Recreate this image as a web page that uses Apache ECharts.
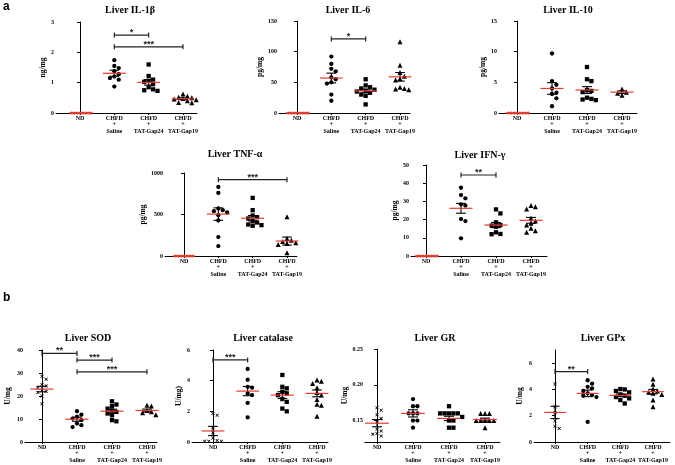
<!DOCTYPE html>
<html><head><meta charset="utf-8">
<script src="https://cdn.jsdelivr.net/npm/echarts@6/dist/echarts.min.js"></script>
<style>html,body{margin:0;padding:0;background:#fff}#c{width:675px;height:465px}</style>
</head><body><div id="c"></div>
<script>
// ---------- DATA ----------
const groupLabels = ['ND', 'CHFD\n+\nSaline', 'CHFD\n+\nTAT-Gap24', 'CHFD\n+\nTAT-Gap19'];

const il1bValues = [[0,0,0,0,0,0,0,0],[1.74,1.55,1.48,1.38,1.28,1.2,1.15,1.1,0.87],[1.6,1.22,1.1,1.06,1.03,0.95,0.85,0.78,0.75,0.73],[0.63,0.55,0.52,0.5,0.48,0.46,0.44,0.4,0.35,0.34]];
const il1bMean = [0,1.31,1.01,0.47];
const il1bSem = [0,0.1,0.09,0.03];
const il1bTicks = [0,1,2,3];
const il1bSig = [[1,2,2.57,'*'],[1,3,2.18,'***']];

const il6Values = [[0,0,0,0,0,0,0,0],[92,80,72,68,58,55,50,48,30,20],[55,45,42,40,38,36,35,33,30,28,14],[116,78,66,60,56,54,42,40,39,38]];
const il6Mean = [0,57,36,59];
const il6Sem = [0,8,3,7];
const il6Ticks = [0,50,100,150];
const il6Sig = [[1,2,120.7,'*']];

const il10Values = [[0,0,0,0,0,0,0,0],[9.7,5.2,4.6,4.0,3.3,3.1,2.4,1.1],[7.5,5.5,5.2,3.75,3.6,3.4,2.5,2.3,2.2,2.1],[3.9,3.4,3.2,2.9]];
const il10Mean = [0,4.0,3.75,3.4];
const il10Sem = [0,0.95,0.55,0.2];
const il10Ticks = [0,5,10,15];
const il10Sig = [];

const tnfValues = [[0,0,0,0,0,0,0],[832,760,572,552,540,524,492,428,228,120],[700,552,488,468,452,420,404,380,372,364],[472,210,190,175,160,150,140,140,40]];
const tnfMean = [0,505,455,180];
const tnfSem = [0,75,32,48];
const tnfTicks = [0,500,1000];
const tnfSig = [[1,3,920,'***']];

const ifnValues = [[0,0,0,0,0,0,0,0],[37.5,33.5,31.7,28.4,27.7,20.3,19.2,9.7],[25.6,23.4,18.5,17,16.7,16.1,13,12.1,12],[27.7,27.1,25.8,20.7,19.2,18,17,15.2,13.9,13]];
const ifnMean = [0,26.2,17,19.6];
const ifnSem = [0,2.7,1.4,1.6];
const ifnTicks = [0,10,20,30,40,50];
const ifnSig = [[1,2,44.5,'**']];

const sodValues = [[28.6,27.3,25,24.4,23.6,22.5,22.1,21.5,20,16.6],[13.4,11.9,11,10.2,9.5,8,7.3,6.5],[17.7,16.3,15.6,14.5,13.7,13.1,12.4,11.6,9.5,9.0],[16,15.6,13.7,13.1,12.7,11.9]];
const sodMean = [23,9.9,13.4,13.7];
const sodSem = [1.2,0.9,0.85,0.6];
const sodTicks = [0,10,20,30,40];
const sodSig = [[0,1,38.5,'**'],[1,2,35.6,'***'],[1,3,30.5,'***']];

const catValues = [[1.86,1.75,0.92,0.61,0.26,0.1,0.05,0.05,0.05],[4.76,4.06,3.6,3.54,3.17,3.06,2.55,1.6],[4.37,3.6,3.5,3.28,3.17,3.06,2.8,2.62,2.18,2.0],[4.04,3.97,3.82,3.54,3.23,3.06,2.77,2.47,2.4,1.68]];
const catMean = [0.72,3.32,3.06,3.17];
const catSem = [0.3,0.3,0.22,0.22];
const catTicks = [0,2,4,6];
const catSig = [[0,1,5.35,'***']];

const grValues = [[0.168,0.1645,0.158,0.153,0.1477,0.138,0.1355,0.132,0.131,0.1285],[0.18,0.17,0.17,0.16,0.16,0.16,0.15,0.15,0.14],[0.17,0.16,0.16,0.16,0.16,0.16,0.155,0.15,0.15,0.14,0.14],[0.16,0.16,0.16,0.15,0.15,0.15,0.15,0.15,0.14]];
const grMean = [0.1463,0.16,0.153,0.1514];
const grSem = [0.005,0.005,0.003,0.002];
const grTicks = [0.15,0.20,0.25];
const grSig = [];

const gpxValues = [[4.41,2.68,2.24,1.6,1.2,1.02],[4.7,4.44,4.2,4.08,3.88,3.7,3.57,3.52,3.42,1.53],[4.03,4.0,3.88,3.78,3.62,3.52,3.42,3.32,3.19,2.93],[4.8,4.39,4.03,3.88,3.78,3.7,3.62,3.19,2.68]];
const gpxMean = [2.25,3.7,3.55,3.83];
const gpxSem = [0.47,0.25,0.1,0.17];
const gpxTicks = [0,2,4,6];
const gpxSig = [[0,1,5.36,'**']];

// ---------- LAYOUT ----------
const panels = [
  {title:'Liver IL-1β', yName:'ng/mg', values:il1bValues, mean:il1bMean, sem:il1bSem, ticks:il1bTicks, sig:il1bSig, min:0, max:3, nd:'dot', dec:0,
   box:{axisX:56,cat0:80,cat3:183,right:197,top:22,bottom:113,tx:130,ty:10,nameDist:12}},
  {title:'Liver IL-6', yName:'pg/mg', values:il6Values, mean:il6Mean, sem:il6Sem, ticks:il6Ticks, sig:il6Sig, min:0, max:150, nd:'dot', dec:0,
   box:{axisX:279,cat0:297,cat3:400,right:410,top:21,bottom:113,tx:348,ty:10,nameDist:15}},
  {title:'Liver IL-10', yName:'pg/mg', values:il10Values, mean:il10Mean, sem:il10Sem, ticks:il10Ticks, sig:il10Sig, min:0, max:15, nd:'dot', dec:0,
   box:{axisX:499,cat0:517,cat3:622,right:637,top:21,bottom:113,tx:568,ty:10,nameDist:16}},
  {title:'Liver TNF-α', yName:'pg/mg', values:tnfValues, mean:tnfMean, sem:tnfSem, ticks:tnfTicks, sig:tnfSig, min:0, max:1000, nd:'dot', dec:0,
   box:{axisX:165,cat0:184,cat3:287,right:297,top:173,bottom:256,tx:235,ty:154,nameDist:15}},
  {title:'Liver IFN-γ', yName:'pg/mg', values:ifnValues, mean:ifnMean, sem:ifnSem, ticks:ifnTicks, sig:ifnSig, min:0, max:50, nd:'dot', dec:0,
   box:{axisX:411,cat0:426,cat3:531,right:547,top:165,bottom:256,tx:480,ty:155,nameDist:14}},
  {title:'Liver SOD', yName:'U/mg', values:sodValues, mean:sodMean, sem:sodSem, ticks:sodTicks, sig:sodSig, min:0, max:40, nd:'x', dec:0,
   box:{axisX:25,cat0:42,cat3:147,right:157,top:350,bottom:442,tx:88,ty:338,nameDist:17}},
  {title:'Liver catalase', yName:'U/mg)', values:catValues, mean:catMean, sem:catSem, ticks:catTicks, sig:catSig, min:0, max:6, nd:'x', dec:0,
   box:{axisX:192,cat0:213,cat3:317,right:328,top:350,bottom:442,tx:263,ty:338,nameDist:12}},
  {title:'Liver GR', yName:'U/mg', values:grValues, mean:grMean, sem:grSem, ticks:grTicks, sig:grSig, min:0.12, max:0.25, nd:'x', dec:2,
   box:{axisX:365,cat0:377,cat3:485,right:500,top:349,bottom:442,tx:435,ty:338,nameDist:15}},
  {title:'Liver GPx', yName:'U/mg', values:gpxValues, mean:gpxMean, sem:gpxSem, ticks:gpxTicks, sig:gpxSig, min:0, max:7, nd:'x', dec:0,
   box:{axisX:534,cat0:555,cat3:653,right:670,top:350,bottom:442,tx:603,ty:338,nameDist:14}}
];

const SERIF = '"Liberation Serif", "Times New Roman", serif';
const RED = '#e03c31';
const X_PATH = 'path://M0,1.5L1.5,0L5,3.5L8.5,0L10,1.5L6.5,5L10,8.5L8.5,10L5,6.5L1.5,10L0,8.5L3.5,5Z';

// simple deterministic beeswarm: returns x offsets (category units)
function swarm(vals, ppu, min, s, r) {
  const placed = [];
  const offs = new Array(vals.length).fill(0);
  const order = vals.map((v, i) => i).sort((a, b) => vals[b] - vals[a]);
  order.forEach(i => {
    const py = (vals[i] - min) * ppu;
    for (let k = 0; k < 60; k++) {
      const m = k === 0 ? 0 : (k % 2 ? Math.ceil(k / 2) : -k / 2);
      const px = m * r;
      if (placed.every(p => Math.hypot(p[0] - px, p[1] - py) >= r * 0.98)) {
        placed.push([px, py]); offs[i] = px / s; break;
      }
    }
  });
  return offs;
}

const grids = [], xAxes = [], yAxes = [], series = [], graphics = [];

panels.forEach((p, pi) => {
  const b = p.box;
  const s = (b.cat3 - b.cat0) / 3;
  const xmin = -(b.cat0 - b.axisX) / s;
  const xmax = 3 + (b.right - b.cat3) / s;
  const h = b.bottom - b.top;
  const ppu = h / (p.max - p.min);
  grids.push({left: b.axisX, top: b.top, width: b.right - b.axisX, height: h, outerBoundsMode: 'none', containLabel: false});
  xAxes.push({
    gridIndex: pi, type: 'value', min: xmin, max: xmax,
    axisLine: {show: true, onZero: false, lineStyle: {color: '#000', width: 1}},
    splitLine: {show: false},
    axisTick: {show: true, length: 2, customValues: [0,1,2,3], lineStyle: {color: '#000'}},
    axisLabel: {customValues: [0,1,2,3], formatter: v => groupLabels[Math.round(v)],
      fontFamily: SERIF, fontWeight: 'bold', fontSize: 6, lineHeight: 6.5, color: '#000', margin: 2,
      verticalAlign: 'top', align: 'center'}
  });
  yAxes.push({
    gridIndex: pi, type: 'value', min: p.min, max: p.max,
    name: p.yName, nameLocation: 'middle', nameGap: b.nameDist - 4,
    nameTextStyle: {fontFamily: SERIF, fontWeight: 'bold', fontSize: 7.5, color: '#000'},
    axisLine: {show: true, lineStyle: {color: '#000', width: 1}},
    splitLine: {show: false},
    axisTick: {show: true, length: 3, customValues: p.ticks, lineStyle: {color: '#000'}},
    axisLabel: {customValues: p.ticks, formatter: v => p.dec ? Number(v).toFixed(p.dec) : String(Math.round(v)),
      fontFamily: SERIF, fontWeight: 'bold', fontSize: 6, color: '#000', margin: 2}
  });
  graphics.push({type: 'text', x: b.tx, y: b.ty, style: {text: p.title, textAlign: 'center', textVerticalAlign: 'middle',
    font: 'bold 10px ' + SERIF, fill: '#000'}});

  p.values.forEach((vals, g) => {
    const isNDdot = g === 0 && p.nd === 'dot';
    const isX = g === 0 && p.nd === 'x';
    const size = isNDdot ? 3 : (isX ? 3.5 : (g === 3 ? 5 : 4.3));
    const r = isNDdot ? 2.8 : (isX ? 4.2 : 4.4);
    const offs = swarm(vals, ppu, p.min, s, r);
    const symbol = g === 0 ? (p.nd === 'dot' ? 'circle' : X_PATH) : (g === 1 ? 'circle' : (g === 2 ? 'rect' : 'triangle'));
    series.push({
      type: 'scatter', xAxisIndex: pi, yAxisIndex: pi, symbol, symbolSize: size,
      itemStyle: {color: isNDdot ? RED : '#000', opacity: 1},
      data: vals.map((v, i) => [g + offs[i], v]),
      silent: true, z: 2
    });
  });

  series.push({
    type: 'custom', xAxisIndex: pi, yAxisIndex: pi, clip: false, silent: true, z: 3,
    data: p.mean.map((m, i) => [i, m, p.sem[i]]),
    encode: {x: 0, y: 1},
    renderItem: (params, api) => {
      const g = api.value(0), m = api.value(1), se = api.value(2);
      const c = api.coord([g, m]);
      const unit = api.size([1, 0])[0];
      const ch = [];
      if (se > 0) {
        const t = api.coord([g, m + se]), bo = api.coord([g, m - se]);
        const cw = 0.14 * unit;
        ch.push({type: 'line', shape: {x1: c[0], y1: t[1], x2: c[0], y2: bo[1]}, style: {stroke: '#000', lineWidth: 1.1}});
        ch.push({type: 'line', shape: {x1: c[0] - cw, y1: t[1], x2: c[0] + cw, y2: t[1]}, style: {stroke: '#000', lineWidth: 1.1}});
        ch.push({type: 'line', shape: {x1: c[0] - cw, y1: bo[1], x2: c[0] + cw, y2: bo[1]}, style: {stroke: '#000', lineWidth: 1.1}});
      }
      const mw = 0.33 * unit;
      ch.push({type: 'line', shape: {x1: c[0] - mw, y1: c[1], x2: c[0] + mw, y2: c[1]}, style: {stroke: RED, lineWidth: 1.2}});
      return {type: 'group', children: ch};
    }
  });

  if (p.sig.length) {
    series.push({
      type: 'custom', xAxisIndex: pi, yAxisIndex: pi, clip: false, silent: true, z: 4,
      data: p.sig.map(d => [d[0], d[1], d[2]]),
      encode: {x: [0, 1], y: 2},
      renderItem: (params, api) => {
        const a = api.coord([api.value(0), api.value(2)]);
        const c = api.coord([api.value(1), api.value(2)]);
        const label = p.sig[params.dataIndex][3];
        const st = {stroke: '#222', lineWidth: 1.2};
        return {type: 'group', children: [
          {type: 'line', shape: {x1: a[0], y1: a[1], x2: c[0], y2: c[1]}, style: st},
          {type: 'line', shape: {x1: a[0], y1: a[1] - 2.5, x2: a[0], y2: a[1] + 2.5}, style: st},
          {type: 'line', shape: {x1: c[0], y1: c[1] - 2.5, x2: c[0], y2: c[1] + 2.5}, style: st},
          {type: 'text', style: {text: label, x: (a[0] + c[0]) / 2, y: a[1] + 2, textAlign: 'center', textVerticalAlign: 'bottom',
            font: 'bold 9px "Liberation Sans", Arial, sans-serif', fill: '#222'}}
        ]};
      }
    });
  }
});

graphics.push({type: 'text', x: 3, y: 1, style: {text: 'a', font: 'bold 12px "Liberation Sans", Arial, sans-serif', fill: '#000'}});
graphics.push({type: 'text', x: 3, y: 292, style: {text: 'b', font: 'bold 12px "Liberation Sans", Arial, sans-serif', fill: '#000'}});

const chart = echarts.init(document.getElementById('c'), null, {renderer: 'canvas'});
chart.setOption({
  animation: false,
  backgroundColor: '#fff',
  grid: grids, xAxis: xAxes, yAxis: yAxes, series,
  graphic: graphics
});
</script>
</body></html>
